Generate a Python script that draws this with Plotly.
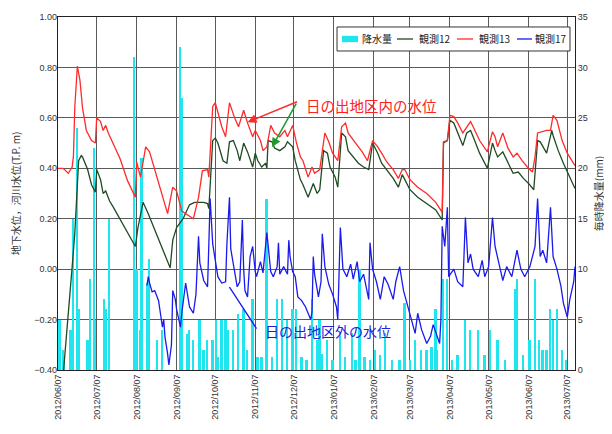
import plotly.graph_objects as go

# ---------------- data ----------------
rain_dates = ["2012-06-08","2012-06-09","2012-06-11","2012-06-12","2012-06-17","2012-06-19","2012-06-22","2012-06-23",
              "2012-06-30","2012-07-02","2012-07-05","2012-07-06","2012-07-13","2012-07-14","2012-07-17","2012-08-05",
              "2012-08-07","2012-08-10","2012-08-11","2012-08-15","2012-08-17","2012-08-23","2012-08-27","2012-09-10",
              "2012-09-11","2012-09-15","2012-09-17","2012-09-20","2012-09-25","2012-09-28","2012-10-01","2012-10-05",
              "2012-10-08","2012-10-09","2012-10-12","2012-10-15","2012-10-17","2012-10-21","2012-10-25","2012-10-29",
              "2012-11-01","2012-11-05","2012-11-09","2012-11-12","2012-11-16","2012-11-20","2012-11-24","2012-11-28",
              "2012-12-02","2012-12-06","2012-12-09","2012-12-13","2012-12-17","2012-12-21","2012-12-25","2012-12-27",
              "2012-12-29","2013-01-02","2013-01-06","2013-01-12","2013-01-16","2013-01-21","2013-01-24","2013-01-27",
              "2013-01-31","2013-02-04","2013-02-08","2013-02-12","2013-02-16","2013-02-21","2013-02-27","2013-03-03",
              "2013-03-07","2013-03-11","2013-03-16","2013-03-20","2013-03-24","2013-03-27","2013-03-28","2013-04-02",
              "2013-04-05","2013-04-09","2013-04-13","2013-04-19","2013-04-23","2013-04-29","2013-05-04","2013-05-08",
              "2013-05-14","2013-05-20","2013-05-28","2013-05-29","2013-06-03","2013-06-08","2013-06-12","2013-06-15",
              "2013-06-18","2013-06-21","2013-06-24","2013-06-26","2013-06-29","2013-07-03","2013-07-06"]
rain_mm = [5, 5, 2, 1, 4, 15, 24, 6,
           3, 9, 22, 5, 7, 6, 15, 31,
           10, 4, 21, 8.6, 11, 3, 4, 32,
           27, 3.6, 4, 3, 5, 2, 3, 3,
           5, 1.3, 5, 5, 4, 4, 5.6, 6,
           2, 7, 1.3, 1.3, 17, 1.3, 7, 7,
           5, 6, 6, 1.3, 1, 7, 3, 5,
           1.6, 3, 1, 3.7, 1.3, 3.7, 1, 10,
           1.3, 1, 2, 1.5, 3.7, 1, 1, 6.6,
           1, 3, 2, 2, 2.3, 6, 2, 9,
           9, 1, 1.5, 5, 4, 4, 1.5, 4,
           3, 1, 8, 9, 1.5, 3, 9, 3,
           2, 2, 6, 5, 6, 2, 1]

obs12_dates = ["2012-06-11","2012-06-14","2012-06-16","2012-06-18","2012-06-20","2012-06-21","2012-06-22","2012-06-23",
               "2012-06-25","2012-06-26","2012-06-30","2012-07-03","2012-07-06","2012-07-07","2012-07-10","2012-07-12",
               "2012-07-14","2012-07-17","2012-07-20","2012-08-06","2012-08-08","2012-08-12","2012-08-16","2012-09-02",
               "2012-09-04","2012-09-07","2012-09-12","2012-09-17","2012-09-21","2012-09-28","2012-10-01","2012-10-02",
               "2012-10-05","2012-10-07","2012-10-09","2012-10-13","2012-10-16","2012-10-18","2012-10-21","2012-10-24",
               "2012-10-26","2012-10-29","2012-11-01","2012-11-05","2012-11-07","2012-11-09","2012-11-12","2012-11-15",
               "2012-11-16","2012-11-17","2012-11-20","2012-11-22","2012-11-26","2012-11-30","2012-12-02","2012-12-06",
               "2012-12-08","2012-12-12","2012-12-14","2012-12-18","2012-12-22","2012-12-25","2012-12-27","2012-12-30",
               "2013-01-02","2013-01-04","2013-01-08","2013-01-10","2013-01-13","2013-01-16","2013-01-18","2013-01-22",
               "2013-01-26","2013-01-30","2013-02-03","2013-02-06","2013-02-10","2013-02-13","2013-02-17","2013-02-22",
               "2013-02-26","2013-03-01","2013-03-03","2013-03-07","2013-03-13","2013-03-20","2013-03-27","2013-04-01",
               "2013-04-02","2013-04-05","2013-04-07","2013-04-10","2013-04-13","2013-04-17","2013-04-20","2013-04-23",
               "2013-04-25","2013-04-30","2013-05-06","2013-05-10","2013-05-12","2013-05-14","2013-05-18","2013-05-22",
               "2013-05-26","2013-05-30","2013-06-03","2013-06-07","2013-06-11","2013-06-14","2013-06-16","2013-06-21",
               "2013-06-25","2013-06-26","2013-06-30","2013-07-04","2013-07-09","2013-07-13"]
obs12_vals = [-0.42, -0.25, -0.12, 0.01, 0.14, 0.245, 0.33, 0.43,
              0.45, 0.445, 0.395, 0.335, 0.305, 0.395, 0.355, 0.30,
              0.31, 0.27, 0.245, 0.09, 0.165, 0.265, 0.22, 0.005,
              0.115, 0.165, 0.20, 0.255, 0.265, 0.265, 0.26, 0.24,
              0.51, 0.52, 0.50, 0.43, 0.42, 0.505, 0.51, 0.47,
              0.43, 0.50, 0.465, 0.405, 0.46, 0.43, 0.405, 0.42,
              0.40, 0.51, 0.505, 0.48, 0.47, 0.485, 0.505, 0.485,
              0.43, 0.355, 0.335, 0.285, 0.34, 0.30, 0.315, 0.47,
              0.46, 0.405, 0.365, 0.325, 0.54, 0.525, 0.47, 0.445,
              0.42, 0.405, 0.395, 0.50, 0.46, 0.42, 0.395, 0.36,
              0.325, 0.375, 0.355, 0.315, 0.285, 0.26, 0.235, 0.195,
              0.50, 0.51, 0.59, 0.58, 0.54, 0.49, 0.54, 0.55,
              0.525, 0.46, 0.40, 0.50, 0.47, 0.445, 0.465, 0.425,
              0.38, 0.385, 0.36, 0.34, 0.315, 0.51, 0.505, 0.46,
              0.55, 0.53, 0.47, 0.42, 0.365, 0.32]

obs13_dates = ["2012-06-07","2012-06-11","2012-06-15","2012-06-18","2012-06-19","2012-06-20","2012-06-22","2012-06-24",
               "2012-06-26","2012-06-29","2012-07-03","2012-07-06","2012-07-07","2012-07-10","2012-07-12","2012-07-14",
               "2012-07-16","2012-07-25","2012-07-31","2012-08-06","2012-08-07","2012-08-10","2012-08-14","2012-08-17",
               "2012-08-31","2012-09-04","2012-09-07","2012-09-11","2012-09-20","2012-09-24","2012-09-27","2012-10-01",
               "2012-10-02","2012-10-05","2012-10-07","2012-10-09","2012-10-12","2012-10-15","2012-10-18","2012-10-22",
               "2012-10-25","2012-10-29","2012-11-01","2012-11-05","2012-11-07","2012-11-11","2012-11-13","2012-11-16",
               "2012-11-19","2012-11-22","2012-11-26","2012-11-30","2012-12-02","2012-12-06","2012-12-09","2012-12-12",
               "2012-12-14","2012-12-18","2012-12-21","2012-12-23","2012-12-27","2012-12-31","2013-01-03","2013-01-06",
               "2013-01-10","2013-01-13","2013-01-16","2013-01-18","2013-01-22","2013-01-26","2013-01-29","2013-02-02",
               "2013-02-06","2013-02-10","2013-02-13","2013-02-17","2013-02-22","2013-02-26","2013-03-01","2013-03-03",
               "2013-03-07","2013-03-13","2013-03-20","2013-03-27","2013-04-01","2013-04-02","2013-04-05","2013-04-07",
               "2013-04-10","2013-04-13","2013-04-17","2013-04-20","2013-04-23","2013-04-25","2013-04-30","2013-05-06",
               "2013-05-10","2013-05-12","2013-05-14","2013-05-18","2013-05-22","2013-05-26","2013-05-29","2013-06-02",
               "2013-06-06","2013-06-10","2013-06-12","2013-06-14","2013-06-18","2013-06-21","2013-06-24","2013-06-26",
               "2013-06-29","2013-07-03","2013-07-07","2013-07-13"]
obs13_vals = [0.40, 0.40, 0.38, 0.405, 0.45, 0.64, 0.805, 0.75,
              0.64, 0.55, 0.51, 0.50, 0.60, 0.585, 0.55, 0.57,
              0.54, 0.44, 0.35, 0.285, 0.425, 0.365, 0.485, 0.465,
              0.22, 0.325, 0.31, 0.23, 0.20, 0.285, 0.39, 0.395,
              0.365, 0.645, 0.66, 0.62, 0.565, 0.525, 0.66, 0.60,
              0.565, 0.63, 0.58, 0.525, 0.55, 0.51, 0.47, 0.485,
              0.57, 0.54, 0.525, 0.55, 0.525, 0.57, 0.50, 0.445,
              0.43, 0.365, 0.405, 0.38, 0.395, 0.54, 0.505, 0.46,
              0.43, 0.565, 0.58, 0.54, 0.51, 0.485, 0.465, 0.43,
              0.51, 0.485, 0.46, 0.425, 0.395, 0.36, 0.395, 0.395,
              0.355, 0.325, 0.30, 0.265, 0.225, 0.505, 0.51, 0.61,
              0.605, 0.58, 0.54, 0.565, 0.585, 0.565, 0.51, 0.465,
              0.545, 0.525, 0.485, 0.54, 0.48, 0.445, 0.46, 0.43,
              0.405, 0.385, 0.445, 0.54, 0.545, 0.55, 0.55, 0.61,
              0.59, 0.51, 0.46, 0.41]

obs17_dates = ["2012-08-15","2012-08-16","2012-08-17","2012-08-19","2012-08-21","2012-08-24","2012-08-25","2012-08-27",
               "2012-08-28","2012-08-29","2012-08-31","2012-09-01","2012-09-03","2012-09-04","2012-09-06","2012-09-07",
               "2012-09-10","2012-09-11","2012-09-14","2012-09-15","2012-09-17","2012-09-20","2012-09-22","2012-09-24",
               "2012-09-25","2012-09-28","2012-10-01","2012-10-02","2012-10-03","2012-10-05","2012-10-07","2012-10-09",
               "2012-10-12","2012-10-15","2012-10-16","2012-10-18","2012-10-19","2012-10-21","2012-10-24","2012-10-26",
               "2012-10-28","2012-10-29","2012-10-30","2012-11-01","2012-11-03","2012-11-05","2012-11-07","2012-11-08",
               "2012-11-11","2012-11-13","2012-11-16","2012-11-19","2012-11-21","2012-11-24","2012-11-25","2012-11-26",
               "2012-11-29","2012-12-02","2012-12-03","2012-12-04","2012-12-06","2012-12-08","2012-12-10","2012-12-13",
               "2012-12-16","2012-12-20","2012-12-21","2012-12-22","2012-12-23","2012-12-26","2012-12-28","2012-12-29",
               "2012-12-31","2013-01-03","2013-01-06","2013-01-09","2013-01-10","2013-01-12","2013-01-14","2013-01-17",
               "2013-01-20","2013-01-22","2013-01-25","2013-01-27","2013-01-30","2013-02-03","2013-02-04","2013-02-06",
               "2013-02-09","2013-02-12","2013-02-15","2013-02-18","2013-02-22","2013-02-24","2013-02-27","2013-03-02",
               "2013-03-06","2013-03-09","2013-03-11","2013-03-13","2013-03-16","2013-03-20","2013-03-23","2013-03-25",
               "2013-03-28","2013-03-30","2013-03-31","2013-04-01","2013-04-03","2013-04-05","2013-04-06","2013-04-10",
               "2013-04-13","2013-04-17","2013-04-19","2013-04-21","2013-04-23","2013-04-25","2013-04-29","2013-05-02",
               "2013-05-04","2013-05-07","2013-05-10","2013-05-12","2013-05-16","2013-05-18","2013-05-21","2013-05-25",
               "2013-05-29","2013-06-01","2013-06-04","2013-06-08","2013-06-12","2013-06-14","2013-06-16","2013-06-18",
               "2013-06-21","2013-06-24","2013-06-26","2013-06-29","2013-07-02","2013-07-04","2013-07-07","2013-07-09",
               "2013-07-12","2013-07-13"]
obs17_vals = [-0.065, -0.03, -0.055, -0.09, -0.085, -0.125, -0.16, -0.23,
              -0.20, -0.27, -0.335, -0.38, -0.30, -0.085, -0.12, -0.16,
              -0.23, -0.175, -0.055, -0.09, -0.15, -0.175, -0.10, 0.13,
              0.025, -0.045, -0.07, 0.10, 0.28, 0.10, 0.03, -0.03,
              -0.055, -0.05, 0.10, 0.285, 0.08, 0.02, -0.07, -0.05,
              0.195, 0.0, -0.085, -0.11, 0.05, 0.09, -0.01, -0.03,
              0.03, -0.015, 0.145, -0.01, -0.03, 0.01, 0.105, -0.02,
              0.01, -0.02, 0.115, 0.05, -0.01, -0.03, -0.11, -0.125,
              -0.15, -0.20, -0.17, 0.05, -0.02, -0.11, -0.05, 0.14,
              0.01, -0.06, -0.10, -0.15, -0.20, 0.165, 0.0, -0.03,
              0.02, -0.04, 0.03, -0.05, -0.02, -0.12, 0.105, 0.0,
              -0.05, -0.12, -0.03, -0.06, -0.12, -0.05, 0.01, -0.085,
              -0.16, -0.215, -0.255, -0.175, -0.24, -0.295, -0.265, -0.22,
              -0.265, -0.295, -0.20, 0.17, 0.09, 0.245, -0.03, 0.0,
              -0.05, -0.07, 0.205, 0.025, 0.06, 0.0, -0.03, 0.035,
              -0.03, 0.01, 0.205, 0.09, 0.0, -0.045, 0.01, -0.03,
              0.075, 0.0, -0.03, 0.01, 0.09, 0.28, 0.05, 0.075,
              0.025, 0.245, 0.05, 0.0, -0.065, -0.135, -0.19, -0.12,
              -0.05, 0.01]

x_range = ["2012-06-07", "2013-07-13"]
series_names = ["降水量", "観測12", "観測13", "観測17"]
series_colors = ["#1fe6ee", "#1f4a22", "#ff2a2a", "#1a1aee"]
label_in = "日の出地区内の水位"
label_out = "日の出地区外の水位"

# ---------------- figure ----------------
FONT = "Arial, 'Liberation Sans', 'Noto Sans CJK JP', sans-serif"
CJK = "'Noto Sans CJK JP', sans-serif"

fig = go.Figure()
fig.add_trace(go.Bar(x=rain_dates, y=rain_mm, name=series_names[0], yaxis="y",
                     marker=dict(color=series_colors[0], line=dict(width=0)),
                     width=1.4 * 86400000))
for nm, col, xs, ys in [(series_names[1], series_colors[1], obs12_dates, obs12_vals),
                        (series_names[2], series_colors[2], obs13_dates, obs13_vals),
                        (series_names[3], series_colors[3], obs17_dates, obs17_vals)]:
    fig.add_trace(go.Scatter(x=xs, y=ys, name=nm, yaxis="y2", mode="lines",
                             line=dict(color=col, width=1.3)))

grid = "#5a5a5a"
# the page body has an 8px margin: the figure is 8px smaller and margins compensate
fig.update_layout(
    width=604, height=426,
    margin=dict(l=50, r=37, t=9, b=64),
    paper_bgcolor="white", plot_bgcolor="white",
    font=dict(family=FONT, size=9, color="#333"),
    bargap=0,
    showlegend=False,
    xaxis=dict(type="date", range=x_range, tick0="2012-06-07", dtick="M1",
               tickformat="%Y/%m/%d", tickangle=-90, showgrid=True, gridcolor=grid,
               gridwidth=1, showline=True, linecolor="#222", linewidth=1, mirror=True,
               ticks="", tickfont=dict(size=9, color="#333"), automargin=False),
    yaxis=dict(range=[0, 35], dtick=5, side="right", showgrid=True, gridcolor=grid,
               gridwidth=1, showline=True, linecolor="#222", linewidth=1, mirror=True,
               zeroline=False, ticks="", tickfont=dict(size=9, color="#333"),
               title=dict(text="毎時降水量(mm)", font=dict(family=CJK, size=10, color="#333"),
                          standoff=9),
               automargin=False),
    yaxis2=dict(range=[-0.4, 1.0], dtick=0.2, tickformat=".2f", side="left",
                overlaying="y", showgrid=False, zeroline=False, showline=False,
                ticks="", tickfont=dict(size=9, color="#333"),
                title=dict(text="地下水位，河川水位(T.P. m)",
                           font=dict(family=CJK, size=10, color="#333"), standoff=14),
                automargin=False),
)

# legend box (drawn in plot-area fractions)
fig.add_shape(type="rect", xref="paper", yref="paper", x0=0.5397, x1=0.9903, y0=0.9037, y1=0.9717,
              line=dict(color="#333", width=1), fillcolor="white", layer="above")
sw = [(0.5493, 0.5803, 0.5841), (0.6557, 0.6867, 0.6944), (0.7718, 0.8027, 0.8104), (0.8878, 0.9168, 0.9188)]
ym = 0.9377
for i, (a, b, t) in enumerate(sw):
    if i == 0:
        fig.add_shape(type="rect", xref="paper", yref="paper", x0=a, x1=b, y0=ym - 0.009, y1=ym + 0.009,
                      line=dict(width=0), fillcolor=series_colors[0], layer="above")
    else:
        fig.add_shape(type="line", xref="paper", yref="paper", x0=a, x1=b, y0=ym, y1=ym,
                      line=dict(color=series_colors[i], width=1.3), layer="above")
    fig.add_annotation(x=t, y=ym, xref="paper", yref="paper", text=series_names[i],
                       xanchor="left", yanchor="middle", showarrow=False,
                       font=dict(family=CJK, size=10, color="#222"))

fig.add_annotation(x="2012-11-01", y=0.583, xref="x", yref="y2", text="",
                   showarrow=True, ax=51, ay=-21, arrowhead=2, arrowsize=1.2,
                   arrowwidth=1.5, arrowcolor="#ff2a2a")
fig.add_annotation(x="2012-11-20", y=0.484, xref="x", yref="y2", text="",
                   showarrow=True, ax=25, ay=-45, arrowhead=2, arrowsize=1.2,
                   arrowwidth=1.5, arrowcolor="#1f9a2a")
fig.add_annotation(x=0.607, y=0.785, xref="paper", yref="paper", text=label_in,
                   showarrow=False, font=dict(family=CJK, size=14.5, color="#ff2020"))
fig.add_annotation(x="2012-10-18", y=-0.071, xref="x", yref="y2", text="",
                   showarrow=True, ax=28, ay=43, arrowhead=0, arrowwidth=1.3,
                   arrowcolor="#1a1aee")
fig.add_annotation(x=0.522, y=0.0765, xref="paper", yref="paper", text=label_out,
                   showarrow=False, font=dict(family=CJK, size=14, color="#2020d8"))

fig.write_html("out.html")
